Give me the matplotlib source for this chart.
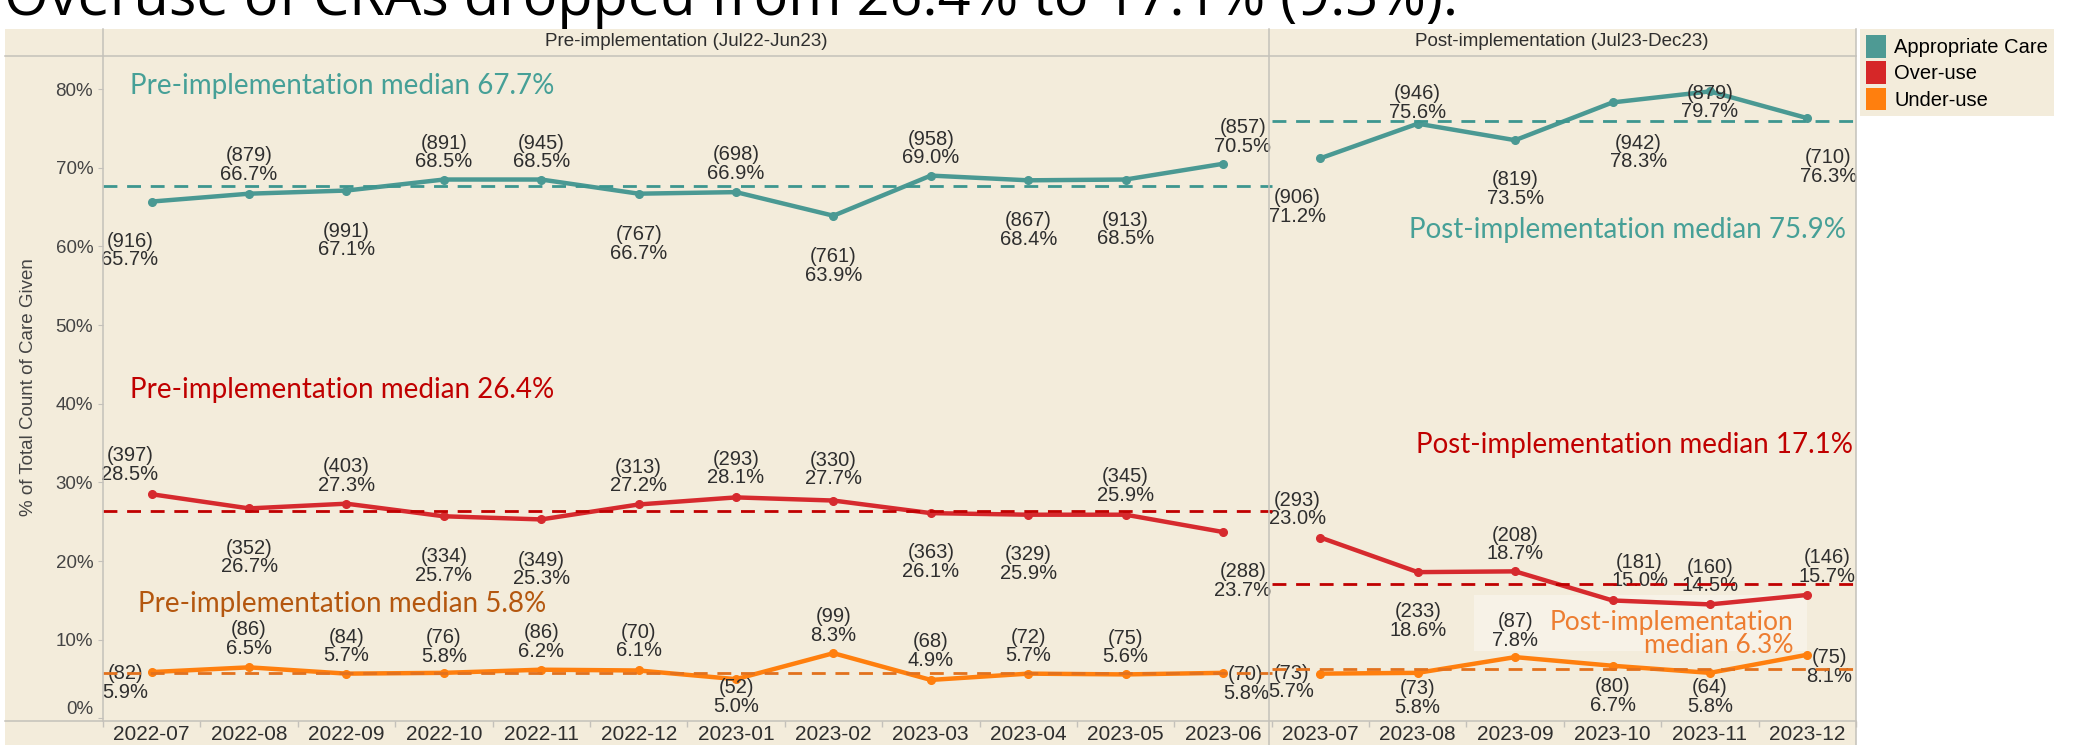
import numpy as np
import matplotlib
matplotlib.use("Agg")
import matplotlib.pyplot as plt
from matplotlib.patches import Rectangle, Patch
from matplotlib.lines import Line2D

# ---------------- data ----------------
months = ['2022-07', '2022-08', '2022-09', '2022-10', '2022-11', '2022-12',
          '2023-01', '2023-02', '2023-03', '2023-04', '2023-05', '2023-06',
          '2023-07', '2023-08', '2023-09', '2023-10', '2023-11', '2023-12']
n_pre = 12

appropriate_pct = [65.7, 66.7, 67.1, 68.5, 68.5, 66.7, 66.9, 63.9, 69.0, 68.4, 68.5, 70.5,
                   71.2, 75.6, 73.5, 78.3, 79.7, 76.3]
appropriate_n = [916, 879, 991, 891, 945, 767, 698, 761, 958, 867, 913, 857,
                 906, 946, 819, 942, 879, 710]
overuse_pct = [28.5, 26.7, 27.3, 25.7, 25.3, 27.2, 28.1, 27.7, 26.1, 25.9, 25.9, 23.7,
               23.0, 18.6, 18.7, 15.0, 14.5, 15.7]
overuse_n = [397, 352, 403, 334, 349, 313, 293, 330, 363, 329, 345, 288,
             293, 233, 208, 181, 160, 146]
underuse_pct = [5.9, 6.5, 5.7, 5.8, 6.2, 6.1, 5.0, 8.3, 4.9, 5.7, 5.6, 5.8,
                5.7, 5.8, 7.8, 6.7, 5.8, 8.1]
underuse_n = [82, 86, 84, 76, 86, 70, 52, 99, 68, 72, 75, 70,
              73, 73, 87, 80, 64, 75]

series_names = ['Appropriate Care', 'Over-use', 'Under-use']
pre_medians = [67.7, 26.4, 5.8]
post_medians = [75.9, 17.1, 6.3]

title = "Overuse of CRAs dropped from 26.4% to 17.1% (9.3%)."
panel_titles = ['Pre-implementation (Jul22-Jun23)', 'Post-implementation (Jul23-Dec23)']
y_ticks = [0, 10, 20, 30, 40, 50, 60, 70, 80]

# ---------------- layout / style ----------------
# label offsets (pixels) relative to each point
teal_off = [(-22, -49), (0, 29), (0, -50), (0, 27), (0, 27), (0, -50), (0, 28), (0, -50), (0, 27),
            (0, -50), (0, -50), (20, 27), (-23, -49), (0, 21), (0, -49), (26, -50), (0, -11), (21, -49)]
red_off = [(-22, 29), (0, -49), (0, 28), (0, -50), (0, -50), (0, 28), (0, 29), (0, 31), (0, -49),
           (0, -49), (0, 29), (20, -49), (-23, 28), (0, -49), (0, 27), (27, 29), (0, 28), (20, 28)]
orange_off = [(-26, -11), (0, 28), (0, 27), (0, 26), (0, 28), (0, 29), (0, -18), (0, 27), (0, 29),
              (0, 27), (0, 27), (23, -11), (-29, -9), (0, -25), (0, 26), (0, -30), (0, -24), (22, -12)]

TEAL = '#4A9993'
RED = '#D62A2E'
ORANGE = '#FF7F0E'
BEIGE = '#F3ECDB'
GRID = '#C4C1BA'
TXT = '#2E2E2E'
LBL_FONT = 'Liberation Sans'
MED_FONT = 'Lato'

W, H = 2094, 745
fig = plt.figure(figsize=(W / 100, H / 100), dpi=100)
fig.patch.set_facecolor('white')


def fx(px):
    return px / W


def fy(py):
    return 1 - py / H


# beige panel
fig.add_artist(Rectangle((fx(5), 0), fx(1856) - fx(5), fy(29), transform=fig.transFigure,
                         facecolor=BEIGE, edgecolor='none', zorder=0))

ax = fig.add_axes([fx(103), fy(721), fx(1856) - fx(103), fy(56) - fy(721)])
ax.set_facecolor(BEIGE)
ax.set_xlim(-0.5, len(months) - 0.5)
ax.set_ylim(-0.32, 84.2)
for s in ax.spines.values():
    s.set_visible(False)

x = np.arange(len(months))
colors = [TEAL, RED, ORANGE]
pcts = [appropriate_pct, overuse_pct, underuse_pct]
ns = [appropriate_n, overuse_n, underuse_n]
offs = [teal_off, red_off, orange_off]

# subtle light box behind the post-implementation under-use note
ax.add_patch(Rectangle((13.58, 8.6), 17.0 - 13.58, 15.7 - 8.6, facecolor='#F7F2E7',
                       edgecolor='none', zorder=1))

for col, pct, n, off in zip(colors, pcts, ns, offs):
    for sl in (slice(0, n_pre), slice(n_pre, len(months))):
        ax.plot(x[sl], pct[sl], color=col, lw=3.2, marker='o', ms=5.5,
                solid_capstyle='round', zorder=3)
    for xi, p, c, (dx, dy) in zip(x, pct, n, off):
        ax.annotate(f"({c})\n{p:.1f}%", (xi, p), xytext=(dx, dy), textcoords='offset pixels',
                    ha='center', va='center', fontsize=14.5, color=TXT, linespacing=0.98,
                    family=LBL_FONT, zorder=5)

# median lines
med_colors = ['#3D968F', '#C00000', '#E2711D']
for col, pm, qm in zip(med_colors, pre_medians, post_medians):
    ax.hlines(pm, -0.5, n_pre - 0.5, colors=col, linestyles=(0, (5, 3.5)), lw=2, zorder=6)
    ax.hlines(qm, n_pre - 0.5, len(months) - 0.5, colors=col, linestyles=(0, (5, 3.5)), lw=2, zorder=6)

# median annotations
MS = 20
ax.text(-0.22, 80.4, f"Pre-implementation median {pre_medians[0]}%", color='#46A097',
        fontsize=MS, family=MED_FONT, ha='left', va='center', zorder=7)
ax.text(-0.22, 41.7, f"Pre-implementation median {pre_medians[1]}%", color='#C00000',
        fontsize=MS, family=MED_FONT, ha='left', va='center', zorder=7)
ax.text(-0.145, 14.6, f"Pre-implementation median {pre_medians[2]}%", color='#B4570F',
        fontsize=MS, family=MED_FONT, ha='left', va='center', zorder=7)
ax.text(17.4, 62.1, f"Post-implementation median {post_medians[0]}%", color='#46A097',
        fontsize=MS, family=MED_FONT, ha='right', va='center', zorder=7)
ax.text(17.47, 34.8, f"Post-implementation median {post_medians[1]}%", color='#C00000',
        fontsize=MS, family=MED_FONT, ha='right', va='center', zorder=7)
ax.text(16.86, 10.7, f"Post-implementation\nmedian {post_medians[2]}%", color='#ED7D31',
        fontsize=19, family=MED_FONT, ha='right', va='center', linespacing=0.9, zorder=7)

# ticks
ax.set_xticks(x)
ax.set_xticklabels(months, fontsize=15, color=TXT, family=LBL_FONT)
ax.set_xticks(np.arange(-0.5, len(months), 1), minor=True)
ax.tick_params(axis='x', which='major', length=0, pad=3)
ax.tick_params(axis='x', which='minor', length=4, color=GRID, width=1)
ax.set_yticks(y_ticks)
ax.set_yticklabels([f"{v}%" for v in y_ticks], fontsize=13.5, color='#444444', family=LBL_FONT)
ax.tick_params(axis='y', length=3.6, color=GRID, pad=3.5)
ax.get_yticklabels()[0].set_va('bottom')


# frame lines
def fline(x0, y0, x1, y1):
    fig.add_artist(Line2D([fx(x0), fx(x1)], [fy(y0), fy(y1)], transform=fig.transFigure,
                          color=GRID, lw=1.1, zorder=1))


fline(5, 56, 1856, 56)
fline(5, 721, 1856, 721)
fline(103, 29, 103, 721)
fline(1268.7, 29, 1268.7, 745)
fline(1856, 29, 1856, 745)

# header texts
fig.text(fx(686), fy(41), panel_titles[0], ha='center', va='center', fontsize=13.5,
         color=TXT, family=LBL_FONT)
fig.text(fx(1562), fy(41), panel_titles[1], ha='center', va='center', fontsize=13.5,
         color=TXT, family=LBL_FONT)

# y label
fig.text(fx(29), fy(387), '% of Total Count of Care Given', rotation=90, ha='center',
         va='center', fontsize=13.5, color='#444444', family=LBL_FONT)

# title (partially cut off at the top, as in the source)
fig.text(fx(4), fy(15), title, fontsize=41.5, va='baseline', ha='left', family='Open Sans',
         color='black')

# legend
handles = [Patch(facecolor=c, edgecolor='none', label=l)
           for c, l in zip(['#4E9A94', '#D62728', '#FF7F0E'], series_names)]
leg = fig.legend(handles=handles, loc='upper left', bbox_to_anchor=(fx(1860), fy(29)),
                 frameon=True, fancybox=False, facecolor=BEIGE, edgecolor='none',
                 framealpha=1, prop={'family': LBL_FONT, 'size': 14.5},
                 handlelength=1.0, handleheight=1.35, labelspacing=0.18, borderpad=0.3,
                 handletextpad=0.4, borderaxespad=0)

fig.savefig('out.png', dpi=100, facecolor='white')
